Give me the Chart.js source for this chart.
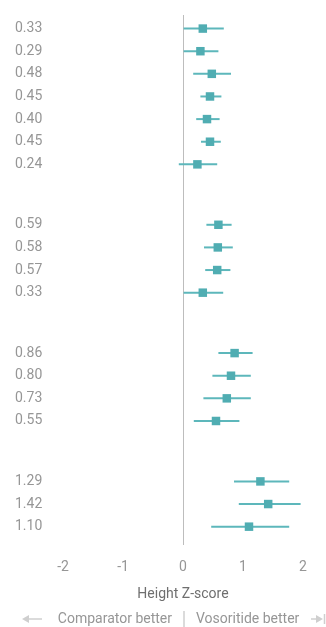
<!DOCTYPE html>
<html>
<head>
<meta charset="utf-8">
<script src="https://cdn.jsdelivr.net/npm/chart.js@4/dist/chart.umd.min.js"></script>
<style>
  html, body { margin: 0; padding: 0; background: #fff; }
  #wrap { width: 326px; height: 627px; position: relative; }
</style>
</head>
<body>
<div id="wrap"><canvas id="forest"></canvas></div>
<script>
// Effect estimates (height Z-score difference) with 95% CI, grouped by study block
const estimates = [0.33, 0.29, 0.48, 0.45, 0.40, 0.45, 0.24,
                   0.59, 0.58, 0.57, 0.33,
                   0.86, 0.80, 0.73, 0.55,
                   1.29, 1.42, 1.10];
const lowerCI   = [0.01, 0.01, 0.17, 0.29, 0.22, 0.30, -0.07,
                   0.39, 0.35, 0.37, 0.01,
                   0.59, 0.49, 0.34, 0.18,
                   0.85, 0.93, 0.47];
const upperCI   = [0.68, 0.59, 0.80, 0.64, 0.61, 0.63, 0.57,
                   0.81, 0.83, 0.79, 0.67,
                   1.16, 1.13, 1.13, 0.94,
                   1.77, 1.96, 1.77];
const groupSizes = [7, 4, 4, 3];
const xTicks = [-2, -1, 0, 1, 2];
const xTitle = 'Height Z-score';
const leftNote = 'Comparator better';
const rightNote = 'Vosoritide better';

// Row layout: one unit per row, wider spacing between groups
const GROUP_STEP = 2.67;
const groupIndex = [];
groupSizes.forEach((n, g) => { for (let k = 0; k < n; k++) groupIndex.push(g); });
const rowPos = estimates.map((_, i) => i + groupIndex[i] * (GROUP_STEP - 1));
const labelByRow = new Map(rowPos.map((p, i) => [p.toFixed(3), estimates[i].toFixed(2)]));

const TEAL = '#50adb2';
const LINE_TEAL = '#5db7bb';
const GREY = '#969696';

Chart.defaults.font.family = 'Roboto, "DejaVu Sans", sans-serif';

// Confidence interval whiskers, drawn under the square markers
const ciPlugin = {
  id: 'ciBars',
  beforeDatasetsDraw(chart) {
    const { ctx, scales: { x, y } } = chart;
    ctx.save();
    ctx.strokeStyle = LINE_TEAL;
    ctx.lineWidth = 2;
    rowPos.forEach((p, i) => {
      const py = y.getPixelForValue(p);
      ctx.beginPath();
      ctx.moveTo(x.getPixelForValue(lowerCI[i]), py);
      ctx.lineTo(x.getPixelForValue(upperCI[i]), py);
      ctx.stroke();
    });
    ctx.restore();
  }
};

// Direction note under the axis title
const notePlugin = {
  id: 'directionNote',
  afterDraw(chart) {
    const { ctx, scales: { x } } = chart;
    const cx = x.getPixelForValue(0);
    const ty = 619;
    ctx.save();
    ctx.font = '14px Roboto, "DejaVu Sans", sans-serif';
    ctx.fillStyle = GREY;
    ctx.textBaseline = 'middle';
    ctx.textAlign = 'right';
    ctx.fillText(leftNote, cx - 11, ty);
    ctx.textAlign = 'left';
    ctx.fillText(rightNote, cx + 13, ty);

    ctx.strokeStyle = '#cfcfcf';
    ctx.fillStyle = '#cfcfcf';
    ctx.lineWidth = 1.5;
    // separator
    ctx.beginPath();
    ctx.moveTo(cx + 1, ty - 8);
    ctx.lineTo(cx + 1, ty + 8);
    ctx.stroke();
    // left arrow
    ctx.beginPath();
    ctx.moveTo(27, ty);
    ctx.lineTo(42, ty);
    ctx.stroke();
    ctx.beginPath();
    ctx.moveTo(22, ty);
    ctx.lineTo(29, ty - 4);
    ctx.lineTo(29, ty + 4);
    ctx.closePath();
    ctx.fill();
    // right arrow ending in a bar
    ctx.beginPath();
    ctx.moveTo(311, ty);
    ctx.lineTo(318, ty);
    ctx.stroke();
    ctx.beginPath();
    ctx.moveTo(323, ty);
    ctx.lineTo(316, ty - 4);
    ctx.lineTo(316, ty + 4);
    ctx.closePath();
    ctx.fill();
    ctx.beginPath();
    ctx.moveTo(324.5, ty - 5);
    ctx.lineTo(324.5, ty + 5);
    ctx.stroke();
    ctx.restore();
  }
};

new Chart(document.getElementById('forest'), {
  type: 'scatter',
  data: {
    datasets: [{
      data: estimates.map((v, i) => ({ x: v, y: rowPos[i] })),
      pointStyle: 'rect',
      pointRadius: 6,
      pointHoverRadius: 6,
      backgroundColor: TEAL,
      borderColor: TEAL,
      borderWidth: 0
    }]
  },
  options: {
    responsive: true,
    maintainAspectRatio: false,
    animation: false,
    layout: { padding: { top: 15, bottom: 24, left: 15, right: 23 } },
    plugins: { legend: { display: false }, tooltip: { enabled: false } },
    scales: {
      x: {
        type: 'linear',
        min: -2,
        max: 2,
        afterBuildTicks(scale) { scale.ticks = xTicks.map(v => ({ value: v })); },
        afterFit(scale) { scale.height = 58; },
        border: { display: false },
        grid: {
          drawTicks: false,
          lineWidth: 1,
          color: ctx => (ctx.tick && ctx.tick.value === 0 ? '#bdbdbd' : 'rgba(0,0,0,0)')
        },
        ticks: { color: GREY, font: { size: 14 }, padding: 14, maxRotation: 0 },
        title: {
          display: true,
          text: xTitle,
          color: '#6f6f6f',
          font: { size: 14 },
          padding: { top: 10, bottom: 0 }
        }
      },
      y: {
        type: 'linear',
        reverse: true,
        min: -0.6,
        max: 22.82,
        afterBuildTicks(scale) { scale.ticks = rowPos.map(v => ({ value: v })); },
        afterFit(scale) { scale.width = 48; },
        border: { display: false },
        grid: { display: false, drawTicks: false },
        ticks: {
          color: GREY,
          font: { size: 14 },
          crossAlign: 'far',
          autoSkip: false,
          callback: v => labelByRow.get(Number(v).toFixed(3)) || ''
        }
      }
    }
  },
  plugins: [ciPlugin, notePlugin]
});
</script>
</body>
</html>
